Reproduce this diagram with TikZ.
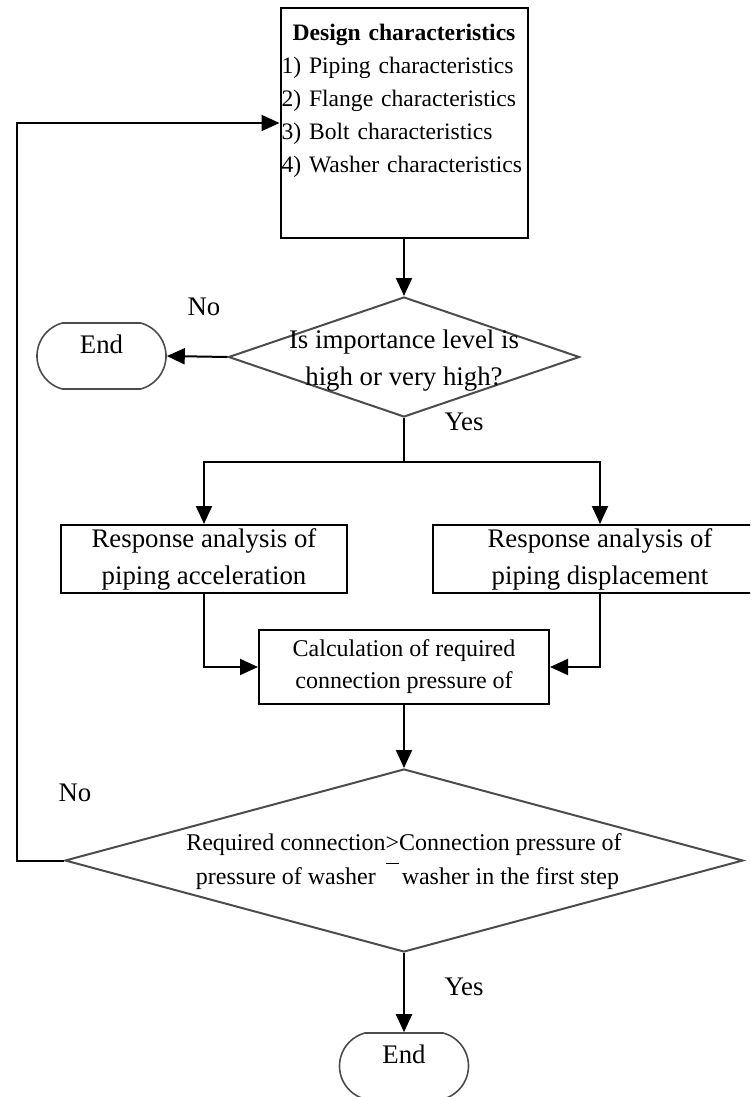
\documentclass[tikz,border=0pt]{standalone}
\usepackage{fontspec}
\setmainfont{Liberation Serif}
\usetikzlibrary{arrows.meta,shapes.geometric,shapes.misc}

\begin{document}
\begin{tikzpicture}[x=0.5pt,y=-0.5pt,
      every node/.style={font=\fontsize{13.4}{18.5}\selectfont},
      procbox/.style={draw,line width=1pt,align=center,inner sep=0pt},
      decision/.style={diamond,draw=black!70,line width=1pt,inner sep=0pt},
      terminal/.style={rounded rectangle,rounded rectangle arc length=150,
        draw=black!70,line width=0.8pt,minimum width=64.5pt,minimum height=33pt,
        inner sep=0pt,text height=9pt,text depth=11.6pt},
      arr/.style={-{Triangle[length=9pt,width=8pt]},line width=1pt}]
    \useasboundingbox (0,0) rectangle (750,1097);
    \clip (0,0) rectangle (750,1097);
    % boxes
    \node[procbox,anchor=north,align=left,text width=122.5pt,inner xsep=0.5pt,
          inner ysep=8pt,text height=8.5pt,text depth=90.5pt,
          font=\fontsize{11.8}{16.5}\selectfont] (design) at (404,7)
      {\hfill\textbf{Design characteristics}\hfill\null\\
       1) Piping characteristics\\
       2) Flange characteristics\\
       3) Bolt characteristics\\
       4) Washer characteristics};
    \node[decision,minimum width=175.5pt,minimum height=60pt,
          label={[align=center,yshift=-2pt]center:Is importance level is\\high or very high?}]
      (imp) at (404,357) {};
    \node[terminal] (endA) at (101.5,356) {End};
    \coordinate (split) at (404,462);
    \node[procbox,minimum width=143pt,minimum height=34pt] (accA) at (204,559)
      {Response analysis of\\piping acceleration};
    \node[procbox,minimum width=167pt,minimum height=34pt] (dispB) at (600,559)
      {Response analysis of\\piping displacement};
    \node[procbox,minimum width=145pt,minimum height=37pt,
          font=\fontsize{12}{16}\selectfont] (calc) at (404,667)
      {Calculation of required\\connection pressure of};
    \node[decision,minimum width=339pt,minimum height=91.5pt,
          label={[font=\fontsize{12}{17}\selectfont]center:%
            \begin{tabular}{@{}c@{}}Required connection\\pressure of washer\end{tabular}%
            \raisebox{3pt}{\underline{\raisebox{5pt}{>}}}%
            \begin{tabular}{@{}c@{}}Connection pressure of\\washer in the first step\end{tabular}}]
      (cmp) at (404,860.5) {};
    \node[terminal] (endB) at (404,1066) {End};
    \coordinate (back) at (17,500);
    % labels
    \node (noA) at (204,307) {No};
    \node (yesA) at (464,422) {Yes};
    \node (noB) at (75,793) {No};
    \node (yesB) at (464,987) {Yes};
    % connectors
    \draw[arr] (design.south) -- (imp.north);
    \draw[arr] (imp.west) -- (endA.east);
    \draw[line width=1pt] (imp.south) -- (split);
    \draw[arr] (split) -| (accA.north);
    \draw[arr] (split) -| (dispB.north);
    \draw[arr] (accA.south) |- (calc.west);
    \draw[arr] (dispB.south) |- (calc.east);
    \draw[arr] (calc.south) -- (cmp.north);
    \draw[arr] (cmp.west) -| (back) |- (design.west);
    \draw[arr] (cmp.south) -- (endB.north);
\end{tikzpicture}
\end{document}
